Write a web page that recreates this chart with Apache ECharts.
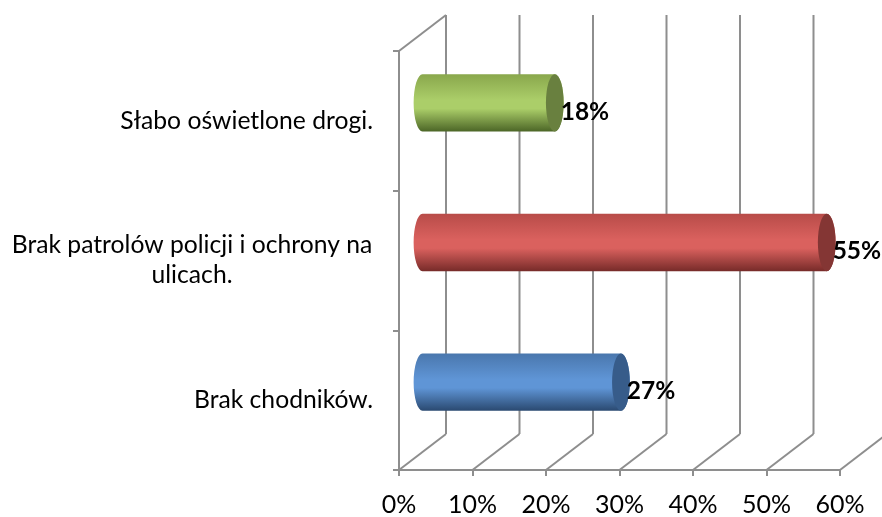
<!DOCTYPE html>
<html>
<head>
<meta charset="utf-8">
<script src="https://cdn.jsdelivr.net/npm/echarts@6/dist/echarts.min.js"></script>
<style>
  html, body { margin: 0; padding: 0; background: #ffffff; }
  #chart { width: 882px; height: 517px; }
</style>
</head>
<body>
<div id="chart"></div>
<script>
// Survey answers (share of respondents, %), listed bottom to top
const categories = ['Brak chodników.', 'Brak patrolów policji i ochrony na ulicach.', 'Słabo oświetlone drogi.'];
const values = [27, 55, 18];
// Value axis ticks (%)
const axisTicks = [0, 10, 20, 30, 40, 50, 60];

const FONT = 'Lato, "Open Sans", sans-serif';
const CAT_SIZE = 24.7;
const TICK_SIZE = 25;
const VALUE_SIZE = 24.5;
const DEPTH = [47, -36];          // offset from the front plane to the back wall
const GRID_COLOR = '#8e8e8e';
const LABEL_GAP = 26;             // space between the category labels and the axis
const palette = [
  { top: '#4a77ad', light: '#5f95d6', bottom: '#2a4970', cap: '#375c8a' },
  { top: '#b84c49', light: '#da615e', bottom: '#772b29', cap: '#843634' },
  { top: '#89a74c', light: '#abce69', bottom: '#4c6627', cap: '#69803f' }
];

// Wrap long category names into lines that fit left of the axis
const measureCtx = document.createElement('canvas').getContext('2d');
measureCtx.font = CAT_SIZE + 'px ' + FONT;
function wrapLines(text, maxW) {
  const words = text.split(' ');
  const lines = [];
  let cur = '';
  words.forEach(function (w) {
    const test = cur ? cur + ' ' + w : w;
    if (cur && measureCtx.measureText(test).width > maxW) {
      lines.push(cur);
      cur = w;
    } else {
      cur = test;
    }
  });
  lines.push(cur);
  return lines;
}
const chartEl = document.getElementById('chart');
const gridLeft = 399;
const wrapped = categories.map(function (c) { return wrapLines(c, gridLeft - LABEL_GAP - 4); });
const catRich = {};
wrapped.forEach(function (lines, i) {
  const w = Math.max.apply(null, lines.map(function (l) { return measureCtx.measureText(l).width; }));
  catRich['c' + i] = {
    width: Math.ceil(w) + 1, align: 'center',
    fontFamily: FONT, fontSize: CAT_SIZE, lineHeight: 30, color: '#000'
  };
});

const chart = echarts.init(chartEl, null, { renderer: 'canvas' });

function ellipsePath(cx, cy, rx, ry) {
  return 'M' + (cx - rx) + ' ' + cy +
    ' A' + rx + ' ' + ry + ' 0 1 0 ' + (cx + rx) + ' ' + cy +
    ' A' + rx + ' ' + ry + ' 0 1 0 ' + (cx - rx) + ' ' + cy + ' Z';
}

const option = {
  backgroundColor: '#ffffff',
  animation: false,
  grid: { left: gridLeft, right: 42, top: 51, bottom: 44, containLabel: false },
  xAxis: {
    type: 'value',
    min: axisTicks[0],
    max: axisTicks[axisTicks.length - 1],
    interval: axisTicks[1] - axisTicks[0],
    axisLine: { show: true, lineStyle: { color: GRID_COLOR, width: 2 } },
    axisTick: { show: true, length: 6, lineStyle: { color: GRID_COLOR, width: 2 } },
    splitLine: { show: false },
    axisLabel: {
      formatter: '{value}%', margin: 22,
      fontFamily: FONT, fontSize: TICK_SIZE, color: '#000'
    }
  },
  yAxis: {
    type: 'category',
    data: categories,
    axisLine: { show: true, lineStyle: { color: GRID_COLOR, width: 2 } },
    axisTick: { show: true, length: 6, lineStyle: { color: GRID_COLOR, width: 2 } },
    splitLine: { show: false },
    axisLabel: {
      margin: LABEL_GAP,
      fontFamily: FONT, fontSize: CAT_SIZE, color: '#000', lineHeight: 30,
      formatter: function (value, index) {
        const lines = wrapped[index];
        if (lines.length === 1) return value;
        return lines.map(function (l) { return '{c' + index + '|' + l + '}'; }).join('\n');
      },
      rich: catRich
    }
  },
  series: [
    {
      // Back wall and floor lines of the 3D frame
      type: 'custom',
      coordinateSystem: 'cartesian2d',
      silent: true,
      z: 1,
      data: axisTicks.map(function (t) { return [t, 0]; }),
      encode: { x: 0, y: 1 },
      renderItem: function (params, api) {
        const cs = params.coordSys;
        const top = cs.y, bottom = cs.y + cs.height;
        const t = api.value(0);
        const x = api.coord([t, 0])[0];
        const ls = { stroke: GRID_COLOR, lineWidth: 2 };
        const children = [
          { type: 'line', shape: { x1: x, y1: bottom, x2: x + DEPTH[0], y2: bottom + DEPTH[1] }, style: ls },
          { type: 'line', shape: { x1: x + DEPTH[0], y1: bottom + DEPTH[1], x2: x + DEPTH[0], y2: top + DEPTH[1] }, style: ls }
        ];
        if (t === axisTicks[0]) {
          children.push({ type: 'line', shape: { x1: x, y1: top, x2: x + DEPTH[0], y2: top + DEPTH[1] }, style: ls });
        }
        return { type: 'group', children: children };
      }
    },
    {
      // Cylinder bars with value labels
      type: 'custom',
      coordinateSystem: 'cartesian2d',
      z: 3,
      data: values.map(function (v, i) { return [v, i]; }),
      encode: { x: 0, y: 1 },
      renderItem: function (params, api) {
        const v = api.value(0), i = api.value(1);
        const start = api.coord([0, i]);
        const end = api.coord([v, i]);
        const band = api.size([0, 1])[1];
        const ry = band * 0.205;
        const rx = ry * 0.31;
        const yc = start[1] + DEPTH[1] / 2;
        const x0 = start[0] + DEPTH[0] / 2;
        const x1 = end[0] + DEPTH[0] / 2;
        const yt = yc - ry, yb = yc + ry;
        const c = palette[i % palette.length];
        const body = 'M' + x0 + ' ' + yt + ' L' + x1 + ' ' + yt +
          ' A' + rx + ' ' + ry + ' 0 0 1 ' + x1 + ' ' + yb +
          ' L' + x0 + ' ' + yb +
          ' A' + rx + ' ' + ry + ' 0 0 1 ' + x0 + ' ' + yt + ' Z';
        return {
          type: 'group',
          children: [
            {
              type: 'path',
              shape: { pathData: body },
              style: {
                fill: new echarts.graphic.LinearGradient(0, 0, 0, 1, [
                  { offset: 0, color: c.top },
                  { offset: 0.45, color: c.light },
                  { offset: 0.6, color: c.light },
                  { offset: 1, color: c.bottom }
                ])
              }
            },
            {
              type: 'path',
              shape: { pathData: ellipsePath(x1, yc, rx, ry) },
              style: { fill: c.cap }
            },
            {
              type: 'text',
              x: x1 + rx - 3,
              y: yc + 9,
              style: {
                text: v + '%',
                fontFamily: FONT, fontWeight: 'bold', fontSize: VALUE_SIZE,
                fill: '#000', align: 'left', verticalAlign: 'middle'
              }
            }
          ]
        };
      }
    }
  ]
};
chart.setOption(option);
</script>
</body>
</html>
